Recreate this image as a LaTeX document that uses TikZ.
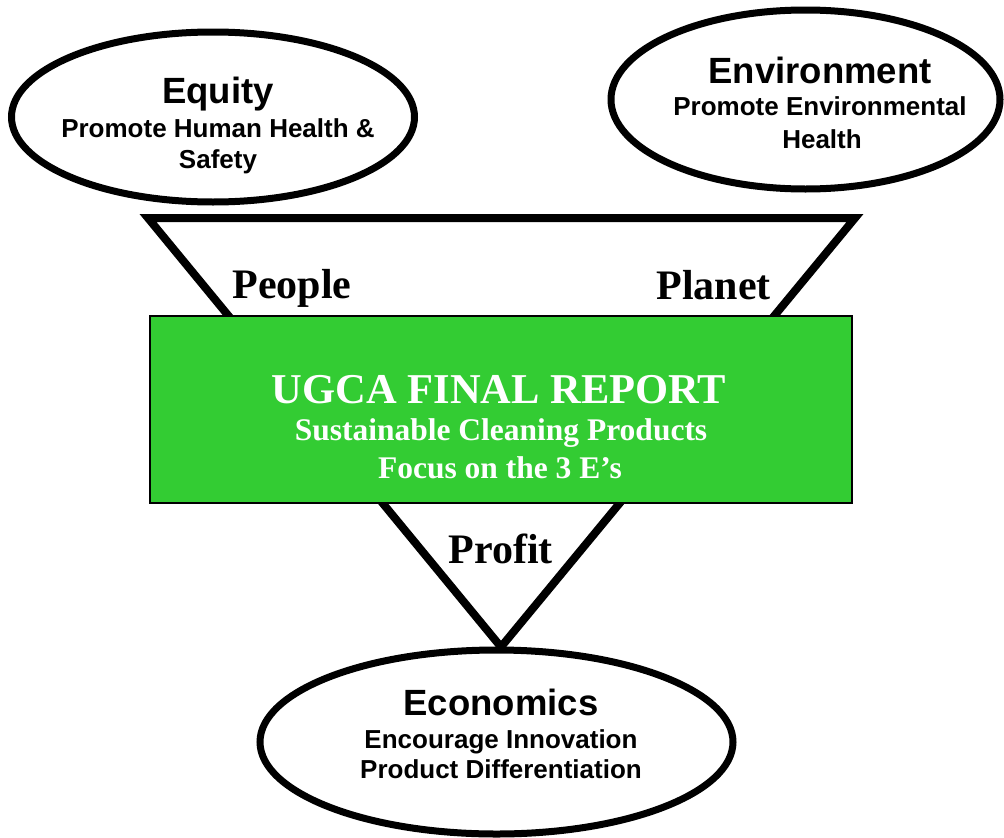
\documentclass[tikz,border=0pt]{standalone}
\usepackage{fontspec}
\setmainfont{Liberation Serif}
\setsansfont{Liberation Sans}
\usetikzlibrary{shapes.geometric}
\definecolor{reportgreen}{RGB}{51,204,51}
\begin{document}
\begin{tikzpicture}[x=1pt,y=-1pt,
  bubble/.style={ellipse, draw=black, fill=white, line width=7pt, inner sep=0pt},
  headline/.style={anchor=base, font=\sffamily\bfseries\fontsize{36.5}{40}\selectfont},
  subline/.style={anchor=base, font=\sffamily\bfseries\fontsize{26}{30}\selectfont},
  cornerlabel/.style={anchor=base west, font=\rmfamily\bfseries\fontsize{42}{46}\selectfont},
  reporttitle/.style={anchor=base, text=white, font=\rmfamily\bfseries\fontsize{42.5}{46}\selectfont},
  reportline/.style={anchor=base, text=white, font=\rmfamily\bfseries\fontsize{31.5}{35}\selectfont}]
\useasboundingbox (0,0) rectangle (1004,838);

% inverted triangle behind the report box
\coordinate (tl) at (148,218);
\coordinate (tr) at (855,218);
\coordinate (tip) at (501,647);
\draw[line width=8pt, line join=miter, miter limit=10, fill=white] (tl) -- (tr) -- (tip) -- cycle;

% central report box
\node[draw=black, line width=1.5pt, fill=reportgreen, minimum width=702pt, minimum height=187pt, inner sep=0pt] (report) at (501,409.5) {};
\node[reporttitle] (rtitle) at (499,403) {UGCA FINAL REPORT};
\node[reportline] (rline1) at (501,440) {Sustainable Cleaning Products};
\node[reportline] (rline2) at (500,478) {Focus on the 3 E’s};

% corner labels of the triangle
\node[cornerlabel] (people) at (229,298) {People};
\node[cornerlabel] (planet) at (653,299) {Planet};
\node[cornerlabel] (profit) at (445,563) {Profit};

% Equity
\node[bubble, minimum width=403pt, minimum height=170pt] (equity) at (213,117) {};
\node[headline] (eqT) at (218,103) {Equity};
\node[subline] (eqA) at (218,137) {Promote Human Health \&};
\node[subline] (eqB) at (218,168) {Safety};

% Environment
\node[bubble, minimum width=389pt, minimum height=179pt] (environment) at (805.5,99.5) {};
\node[headline] (enT) at (820,83) {Environment};
\node[subline] (enA) at (820,115) {Promote Environmental};
\node[subline] (enB) at (822,148) {Health};

% Economics
\node[bubble, minimum width=473pt, minimum height=184pt] (economics) at (496.5,742) {};
\node[headline] (ecT) at (501,715) {Economics};
\node[subline] (ecA) at (501,748) {Encourage Innovation};
\node[subline] (ecB) at (501,778) {Product Differentiation};
\end{tikzpicture}
\end{document}
